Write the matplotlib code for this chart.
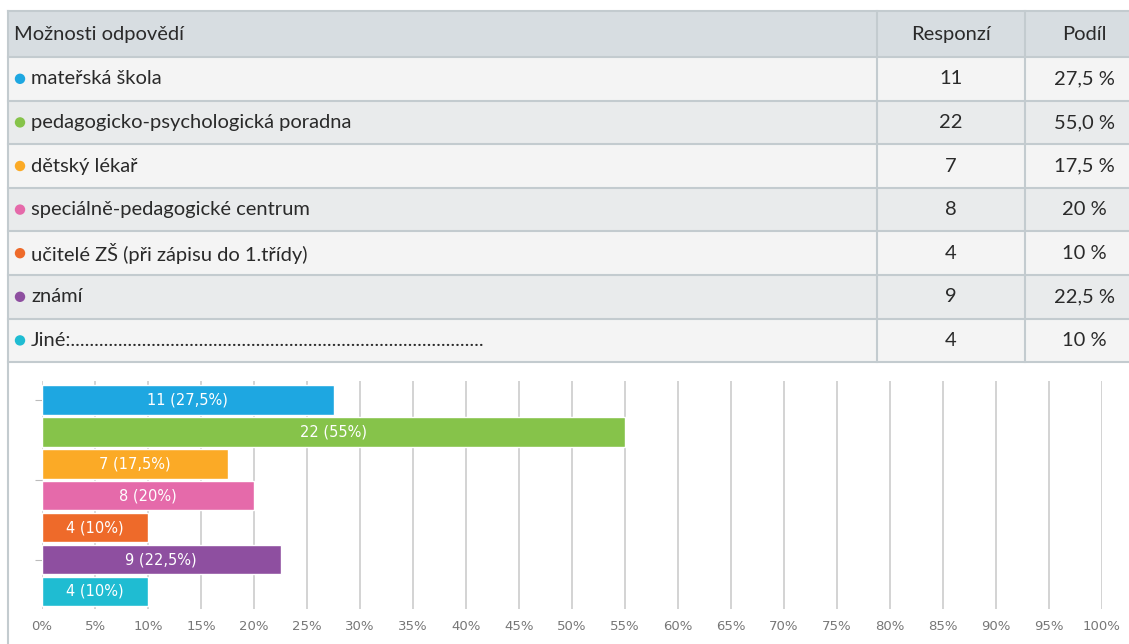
import numpy as np
import matplotlib
matplotlib.use("Agg")
from matplotlib import pyplot as plt
from matplotlib.patches import Rectangle, Circle

options = [
    'mateřská škola',
    'pedagogicko-psychologická poradna',
    'dětský lékař',
    'speciálně-pedagogické centrum',
    'učitelé ZŠ (při zápisu do 1.třídy)',
    'známí',
    'Jiné:' + '.' * 87,
]
counts = [11, 22, 7, 8, 4, 9, 4]
shares = [27.5, 55.0, 17.5, 20, 10, 22.5, 10]
share_text = ['27,5 %', '55,0 %', '17,5 %', '20 %', '10 %', '22,5 %', '10 %']
bar_text = ['11 (27,5%)', '22 (55%)', '7 (17,5%)', '8 (20%)', '4 (10%)', '9 (22,5%)', '4 (10%)']
colors = ['#1ea7e1', '#86c34a', '#fbaa26', '#e56aaa', '#ee6a2a', '#8e4fa0', '#1fbcd2']
headers = ['Možnosti odpovědí', 'Responzí', 'Podíl']

W, H = 1129, 644
fig = plt.figure(figsize=(W / 100, H / 100), dpi=100)

# table, drawn in pixel coordinates
tab = fig.add_axes([0, 0, 1, 1])
tab.set_xlim(0, W)
tab.set_ylim(H, 0)
tab.axis('off')

font = ['Lato', 'DejaVu Sans']
fs = 14.5
left, right = 8, 1140
col1, col2 = 877, 1025
top, head_h, row_h = 11, 46, 43.6
line_c = '#c3cbcf'
txt_c = '#2a2a2a'

tab.add_patch(Rectangle((left, top), right - left, head_h, fc='#d7dde1', ec='none'))
for i in range(len(options)):
    y0 = top + head_h + i * row_h
    fc = '#f4f4f4' if i % 2 == 0 else '#e9ebec'
    tab.add_patch(Rectangle((left, y0), right - left, row_h, fc=fc, ec='none'))
    tab.plot([left, right], [y0, y0], color=line_c, lw=1.5)
    yc = y0 + row_h / 2
    tab.add_patch(Circle((20, yc), 5.2, fc=colors[i], ec='none'))
    tab.text(31, yc, options[i], family=font, fontsize=fs, va='center', color=txt_c)
    tab.text(951, yc, str(counts[i]), family=font, fontsize=fs, va='center', ha='center', color=txt_c)
    tab.text(1084, yc, share_text[i], family=font, fontsize=fs, va='center', ha='center', color=txt_c)
bottom = top + head_h + len(options) * row_h
tab.plot([left, right], [top, top], color=line_c, lw=1.5)
tab.plot([left, right], [bottom, bottom], color=line_c, lw=1.5)
tab.plot([left, left], [top, H], color=line_c, lw=1.5)
for x in (col1, col2):
    tab.plot([x, x], [top, bottom], color=line_c, lw=1.5)
hy = top + head_h / 2
tab.text(14, hy, headers[0], family=font, fontsize=fs, va='center', color=txt_c)
tab.text(951, hy, headers[1], family=font, fontsize=fs, va='center', ha='center', color=txt_c)
tab.text(1084, hy, headers[2], family=font, fontsize=fs, va='center', ha='center', color=txt_c)

# bar chart
x0, x1 = 42, 1102
y_top, y_bot = 381, 609
ax = fig.add_axes([x0 / W, 1 - y_bot / H, (x1 - x0) / W, (y_bot - y_top) / H])
ypos = np.arange(len(shares))
ax.barh(ypos, shares, height=0.92, color=colors, edgecolor='white', linewidth=1.0, zorder=3)
for i, (v, t) in enumerate(zip(shares, bar_text)):
    ax.text(v / 2, i, t, ha='center', va='center', color='white', fontsize=10.5, zorder=4)
ax.set_xlim(0, 100)
ax.set_ylim(len(shares) - 0.45, -0.6)
ax.set_xticks(np.arange(0, 101, 5))
ax.set_xticklabels(['%d%%' % v for v in range(0, 101, 5)], color='#777777', fontsize=9.5)
ax.tick_params(axis='x', length=0, pad=8)
ax.set_yticks([0, 2.5, 5])
ax.set_yticklabels([])
ax.tick_params(axis='y', length=5, color='#bbbbbb')
ax.grid(axis='x', color='#cccccc', lw=1.2, zorder=0)
for s in ax.spines.values():
    s.set_visible(False)

fig.savefig('out.png', dpi=100)
